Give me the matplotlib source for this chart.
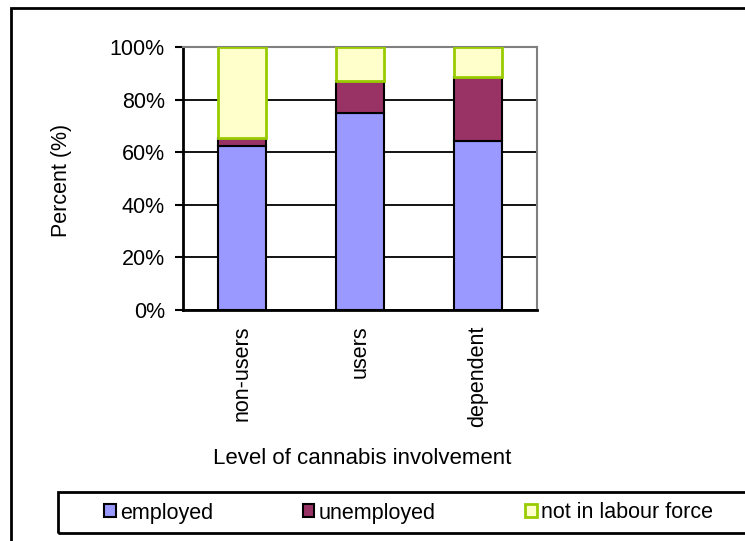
import numpy as np
import matplotlib
matplotlib.use('Agg')
import matplotlib.pyplot as plt
from matplotlib.patches import Patch, Rectangle

plt.rcParams['font.family'] = ['Liberation Sans', 'DejaVu Sans']

groups = ['non-users', 'users', 'dependent']
employed = [62.4, 75.0, 64.3]
unemployed = [3.1, 12.1, 24.4]
not_in_lf = [34.5, 12.9, 11.3]
series_names = ['employed', 'unemployed', 'not in labour force']
yticks = [0, 20, 40, 60, 80, 100]
ytick_labels = ['0%', '20%', '40%', '60%', '80%', '100%']

W, H = 745, 541
fig = plt.figure(figsize=(W / 100, H / 100), dpi=100)
ax = fig.add_axes([183 / W, 1 - 310 / H, 354 / W, 263 / H])

fs = 15.5
x = np.arange(len(groups))
bw = 0.40
emp = np.array(employed)
une = np.array(unemployed)
nlf = np.array(not_in_lf)

ax.bar(x, emp, bw, color='#9999FF', edgecolor='black', linewidth=1.5, zorder=3)
ax.bar(x, une, bw, bottom=emp, color='#993366', edgecolor='black', linewidth=1.5, zorder=3)
ax.bar(x, nlf, bw, bottom=emp + une, color='#FFFFCC', edgecolor='#99CC00', linewidth=2, zorder=4)

ax.set_xlim(-0.5, 2.5)
ax.set_ylim(0, 100)
ax.set_yticks(yticks)
ax.set_yticklabels(ytick_labels, fontsize=fs)
ax.set_xticks(x)
ax.set_xticklabels(groups, rotation=90, fontsize=fs, va='top', ha='center')
ax.tick_params(axis='x', length=0, pad=11)
ax.tick_params(axis='y', length=6, width=1.5, pad=7, direction='out')

ax.yaxis.grid(True, color='black', linewidth=1.3, zorder=0)
ax.set_axisbelow(True)
for s in ['left', 'bottom']:
    ax.spines[s].set_color('black')
    ax.spines[s].set_linewidth(2)
for s in ['top', 'right']:
    ax.spines[s].set_color('#808080')
    ax.spines[s].set_linewidth(1.5)

fig.text(62 / W, 1 - 180 / H, 'Percent (%)', rotation=90, ha='center', va='center', fontsize=fs)
fig.text(362 / W, 1 - 458 / H, 'Level of cannabis involvement', ha='center', va='center', fontsize=16)

# outer chart frame and legend box
fig.patches.append(Rectangle((11 / W, -0.1), 1.1, 1 - 8 / H + 0.1, transform=fig.transFigure,
                             fill=False, edgecolor='black', linewidth=2, clip_on=False))
fig.patches.append(Rectangle((58 / W, 1 - 533 / H), 1.0, 41 / H, transform=fig.transFigure,
                             fill=False, edgecolor='black', linewidth=2, clip_on=False))

handles = [Patch(facecolor='#9999FF', edgecolor='black', linewidth=1.5),
           Patch(facecolor='#993366', edgecolor='black', linewidth=1.5),
           Patch(facecolor='#FFFFCC', edgecolor='#99CC00', linewidth=2)]
fig.legend(handles, series_names, loc='center left', bbox_to_anchor=(104 / W, 1 - 513 / H),
           ncol=3, frameon=False, fontsize=fs, handlelength=0.55, handleheight=0.55,
           handletextpad=0.2, columnspacing=4.15, borderpad=0, borderaxespad=0)

fig.savefig('out.png', dpi=100)
